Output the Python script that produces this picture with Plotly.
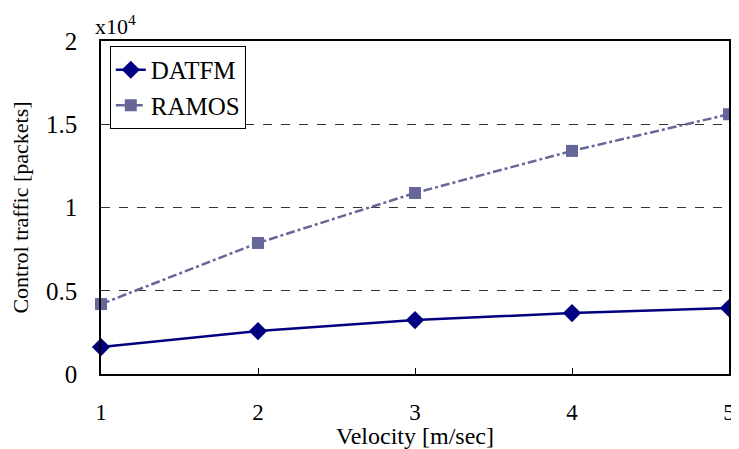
import plotly.graph_objects as go

velocity = [1, 2, 3, 4, 5]
datfm_packets = [1620, 2580, 3240, 3660, 3960]
ramos_packets = [4200, 7870, 10870, 13400, 15600]
scale = 1e4
y_ticks = [0, 0.5, 1, 1.5, 2]
y_tick_labels = ["0", "0.5", "1", "1.5", "2"]

font = "Liberation Serif, Times New Roman, serif"

fig = go.Figure()
fig.add_trace(go.Scatter(
    x=velocity, y=[v / scale for v in datfm_packets], name="DATFM",
    mode="lines+markers", cliponaxis=False, legendgroup="a",
    line=dict(color="#000080", width=2.5),
    marker=dict(symbol="diamond", size=14, color="#000080")))
fig.add_trace(go.Scatter(
    x=velocity, y=[v / scale for v in ramos_packets], name="RAMOS",
    mode="lines+markers", cliponaxis=False, legendgroup="b",
    line=dict(color="#666699", width=2.5, dash="dashdot"),
    marker=dict(symbol="square", size=12, color="#666699")))

# page body has an 8px margin, so the figure is 8px smaller and margins shifted
fig.update_layout(
    width=731, height=441,
    margin=dict(l=93, r=4, t=33, b=75),
    paper_bgcolor="white", plot_bgcolor="white",
    font=dict(family=font, size=23, color="black"),
    showlegend=True,
    legend=dict(x=0.014, y=0.985, xanchor="left", yanchor="top",
                bgcolor="white", bordercolor="black", borderwidth=1,
                font=dict(family=font, size=25), tracegroupgap=0),
    xaxis=dict(range=[1, 5], tickvals=velocity, showline=True, linecolor="black",
               linewidth=1.5, mirror=True, ticks="inside", ticklen=6,
               tickcolor="black", showgrid=False, zeroline=False,
               ticklabelstandoff=17, tickfont=dict(family=font, size=23),
               title=dict(text="Velocity [m/sec]", standoff=1,
                          font=dict(family=font, size=24))),
    yaxis=dict(range=[0, 2], tickvals=y_ticks, ticktext=y_tick_labels,
               showline=True, linecolor="black", linewidth=1.5, mirror=True,
               ticks="", showgrid=True, gridcolor="#333333", griddash="dash",
               gridwidth=1, zeroline=False, ticklabelstandoff=17,
               tickfont=dict(family=font, size=25),
               title=dict(text="Control traffic [packets]", standoff=12,
                          font=dict(family=font, size=22))),
    annotations=[dict(text="x10<sup>4</sup>", xref="paper", yref="paper",
                      x=-0.013, y=1.0, xanchor="left", yanchor="bottom",
                      showarrow=False, font=dict(family=font, size=22))],
)

fig.write_html("out.html")
